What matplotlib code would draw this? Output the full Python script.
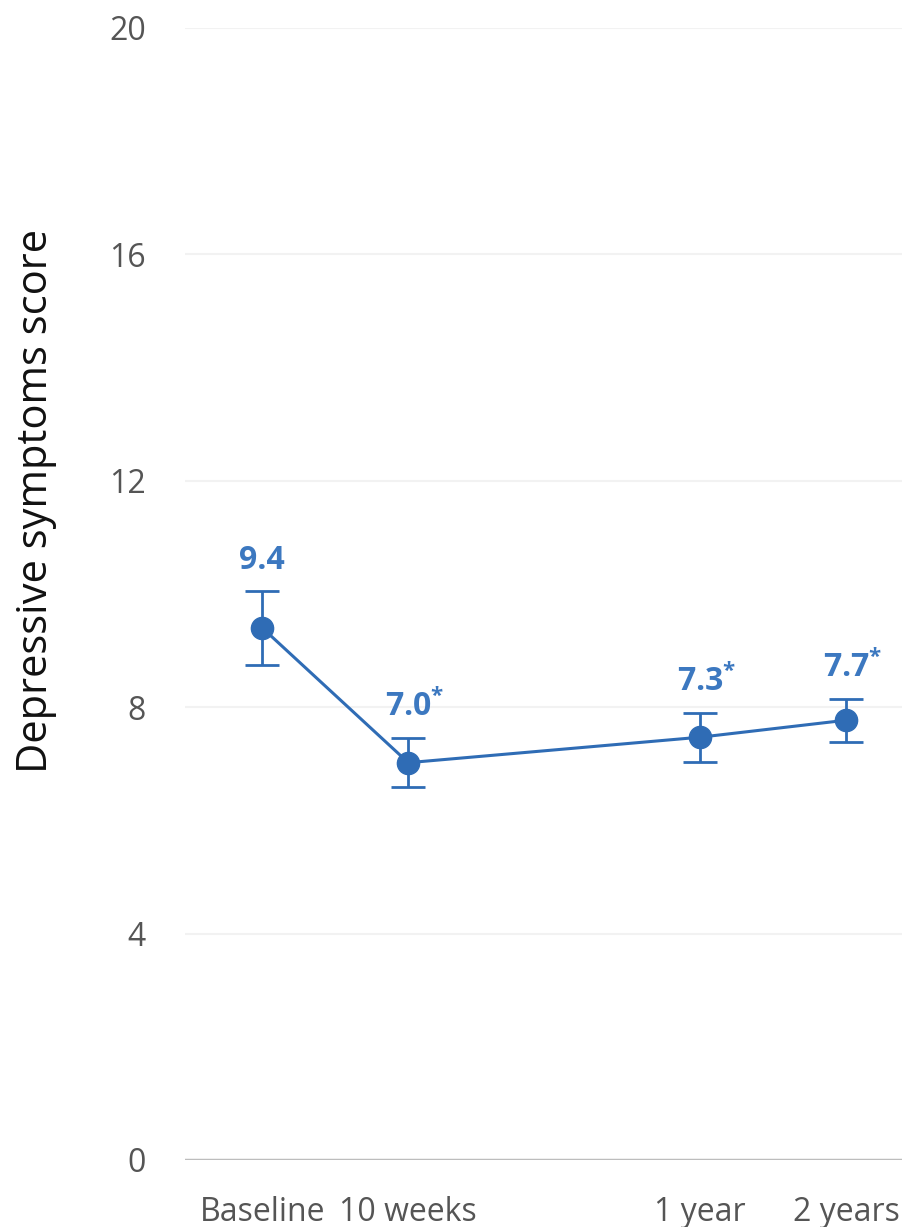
import matplotlib.pyplot as plt
import numpy as np

plt.rcParams['font.family'] = ['Open Sans', 'DejaVu Sans']
plt.rcParams['mathtext.fontset'] = 'custom'
plt.rcParams['mathtext.rm'] = 'Open Sans'
plt.rcParams['mathtext.bf'] = 'Open Sans:bold'

# data
timepoints = ['Baseline', '10 weeks', '1 year', '2 years']
positions = [0, 1, 3, 4]
scores = [9.4, 7.02, 7.47, 7.77]
errors = [0.65, 0.43, 0.43, 0.38]
value_labels = ['9.4', '7.0*', '7.3*', '7.7*']

blue = '#2F6CB5'
label_blue = '#3C78C0'

fig = plt.figure(figsize=(9.03, 12.27), dpi=100)
ax = fig.add_axes([185 / 903, 1 - 1160 / 1227, 718 / 903, 1132 / 1227])

ax.errorbar(positions, scores, yerr=errors, color=blue, lw=2.2, marker='o',
            markersize=16, elinewidth=2.0, capsize=12, capthick=2.0, zorder=3)

for x, y, e, lab in zip(positions, scores, errors, value_labels):
    if lab.endswith('*'):
        txt = r'$\mathbf{' + lab[:-1] + r'}^{\mathbf{*}}$'
        dx = 5
    else:
        txt = lab
        dx = 0
    ax.annotate(txt, (x, y + e), xytext=(dx, 10), textcoords='offset points',
                ha='center', va='bottom', fontsize=23, fontweight='bold', color=label_blue)

ax.set_xlim(-0.53, 4.39)
ax.set_ylim(0, 20)
ax.set_yticks([0, 4, 8, 12, 16, 20])
ax.set_xticks(positions)
ax.set_xticklabels(timepoints)

# faint gridlines, darker baseline
for y in [4, 8, 12, 16, 20]:
    ax.axhline(y, color='#f2f2f2', lw=1.5, zorder=0)
ax.axhline(0, color='#bdbdbd', lw=2.5, zorder=1)

for s in ax.spines.values():
    s.set_visible(False)
ax.tick_params(axis='both', length=0, labelsize=23, labelcolor='#555555')
ax.tick_params(axis='y', pad=28)
ax.tick_params(axis='x', pad=26)

ax.set_ylabel('Depressive symptoms score', fontsize=30, color='#111111')
ax.yaxis.set_label_coords(-0.178, 0.582)

fig.savefig('out.png', dpi=100)
